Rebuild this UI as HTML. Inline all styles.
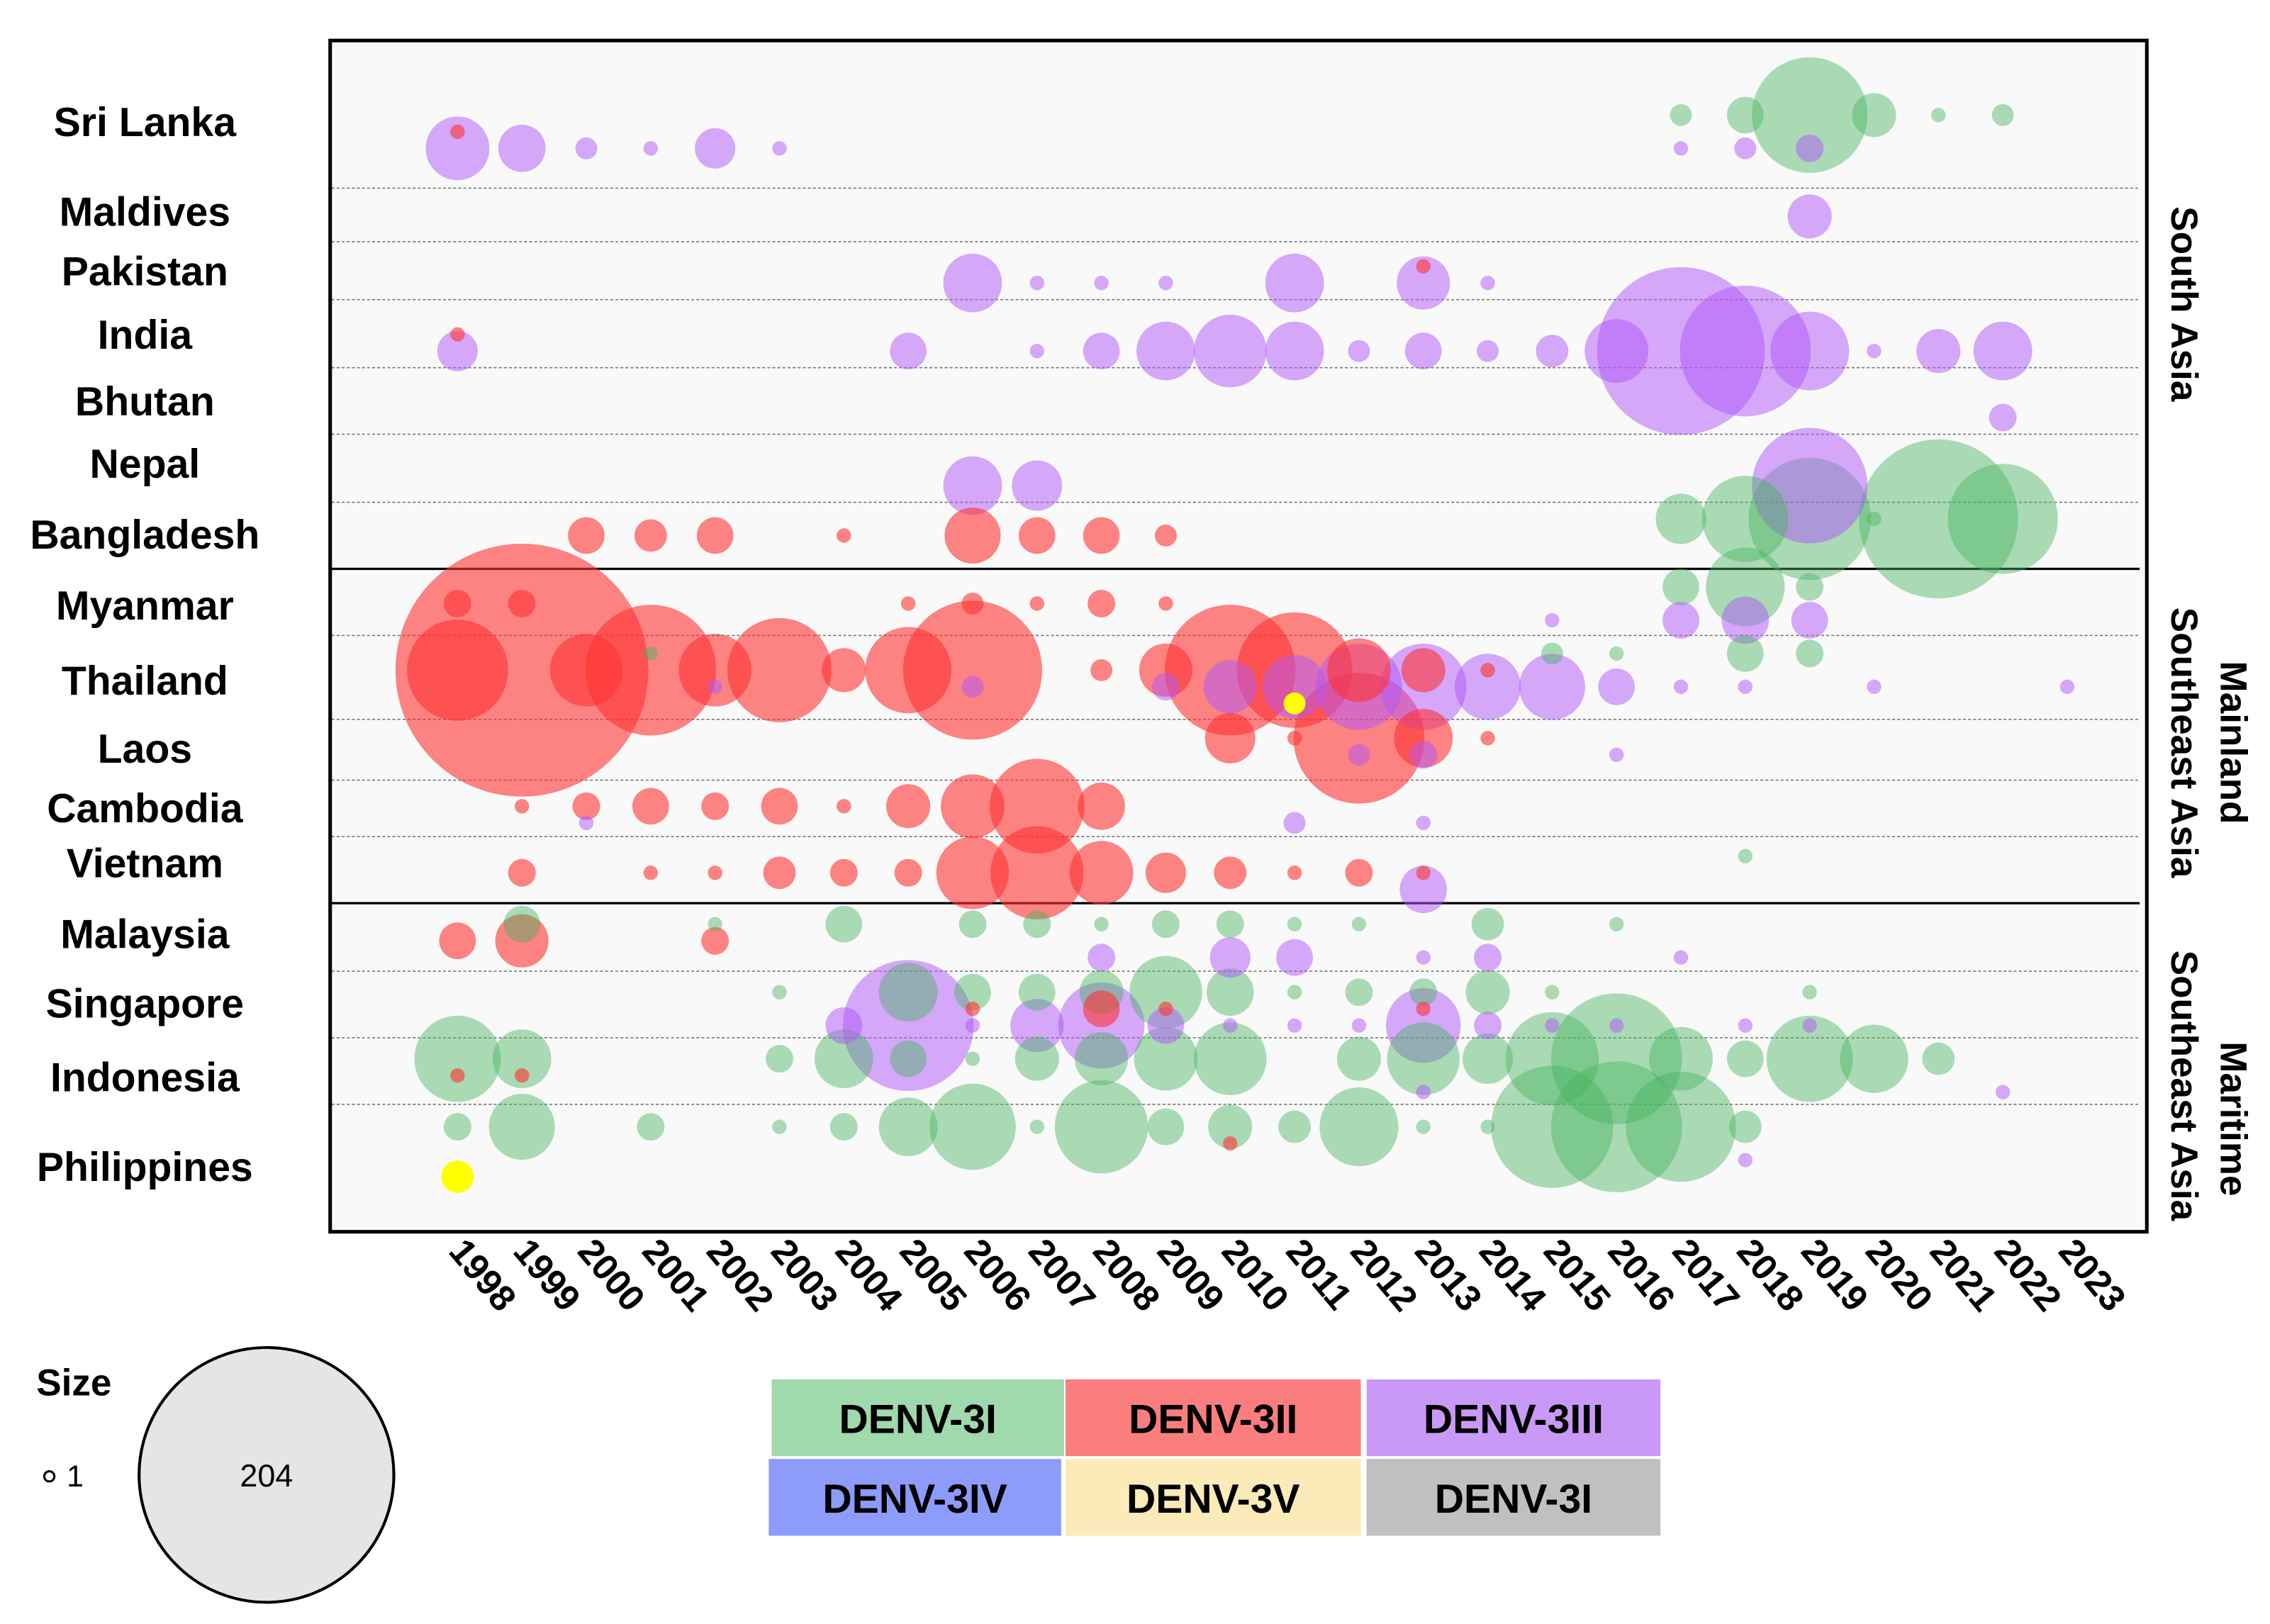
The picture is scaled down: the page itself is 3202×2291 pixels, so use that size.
<!DOCTYPE html>
<html><head><meta charset="utf-8">
<style>
html,body{margin:0;padding:0;background:#fff;}
svg{display:block;font-family:"Liberation Sans",Arial,sans-serif;}
</style></head>
<body>
<svg id="chart" width="3202" height="2291" viewBox="0 0 1568 1122" xmlns="http://www.w3.org/2000/svg">
<defs><clipPath id="plotclip"><rect x="229" y="29" width="1253" height="821"/></clipPath></defs>
<rect x="228" y="28" width="1255" height="823" fill="#f9f9f9"/>
<g id="grid"></g>
<g id="bubbles" clip-path="url(#plotclip)"></g>
<rect x="228" y="28" width="1255" height="823" fill="none" stroke="#000" stroke-width="2.5"/>
<g id="ylabels" font-weight="bold" font-size="28" text-anchor="middle"></g>
<g id="xlabels" font-weight="bold" font-size="25"></g>
<g font-weight="bold" font-size="26" text-anchor="middle">
 <text transform="translate(1500,210) rotate(90)">South Asia</text>
 <text transform="translate(1534,513) rotate(90)">Mainland</text>
 <text transform="translate(1500,513) rotate(90)">Southeast Asia</text>
 <text transform="translate(1534,773) rotate(90)">Maritime</text>
 <text transform="translate(1500,750) rotate(90)">Southeast Asia</text>
</g>
<g>
 <text x="25" y="964" font-weight="bold" font-size="26">Size</text>
 <circle cx="34" cy="1020" r="3.5" fill="none" stroke="#000" stroke-width="1.5"/>
 <text x="46" y="1027" font-size="21">1</text>
 <circle cx="184" cy="1019" r="88" fill="#e6e4e6" stroke="#000" stroke-width="2"/>
 <text x="184" y="1027" font-size="22" text-anchor="middle">204</text>
</g>
<g id="colorlegend" font-weight="bold" font-size="28" text-anchor="middle"></g>
</svg>
<script>
const countries = ["Sri Lanka","Maldives","Pakistan","India","Bhutan","Nepal","Bangladesh","Myanmar","Thailand","Laos","Cambodia","Vietnam","Malaysia","Singapore","Indonesia","Philippines"];
const countryBase = [91,138,184,231,277,324,370,417,463,510,557,603,650,697,743,790];
const labelY = [84,146,187,231,277,320,369,418,470,517,558,596,645,693,744,806];
const years = [1998,1999,2000,2001,2002,2003,2004,2005,2006,2007,2008,2009,2010,2011,2012,2013,2014,2015,2016,2017,2018,2019,2020,2021,2022,2023];
const genotypes = ["I","II","III","V"];
const genotypeOffset = {"I":-11.5,"II":0,"III":11.5,"V":23};
const genotypeColor = {"I":"rgba(70,180,95,0.45)","II":"rgba(255,50,50,0.6)","III":"rgba(175,85,250,0.5)","V":"rgba(255,255,0,1)"};
const legendLabels = ["DENV-3I","DENV-3II","DENV-3III","DENV-3IV","DENV-3V","DENV-3I"];
const legendColors = ["#9fd9ac","#fb7e7e","#c999f8","#8d9bfb","#fdeab9","#c0c0c0"];
const records = [
["Sri Lanka",2017,"I",2],["Sri Lanka",2018,"I",5],["Sri Lanka",2019,"I",44],["Sri Lanka",2020,"I",7],["Sri Lanka",2021,"I",1],["Sri Lanka",2022,"I",2],
["Sri Lanka",1998,"II",1],
["Sri Lanka",1998,"III",14],["Sri Lanka",1999,"III",8],["Sri Lanka",2000,"III",2],["Sri Lanka",2001,"III",1],["Sri Lanka",2002,"III",6],["Sri Lanka",2003,"III",1],["Sri Lanka",2017,"III",1],["Sri Lanka",2018,"III",2],["Sri Lanka",2019,"III",3],
["Maldives",2019,"III",7],
["Pakistan",2006,"III",12],["Pakistan",2007,"III",1],["Pakistan",2008,"III",1],["Pakistan",2009,"III",1],["Pakistan",2011,"III",12],["Pakistan",2013,"III",10],["Pakistan",2014,"III",1],["Pakistan",2013,"II",1],
["India",1998,"III",6],["India",2005,"III",5],["India",2007,"III",1],["India",2008,"III",5],["India",2009,"III",12],["India",2010,"III",18],["India",2011,"III",12],["India",2012,"III",2],["India",2013,"III",5],["India",2014,"III",2],["India",2015,"III",4],["India",2016,"III",14],["India",2017,"III",91],["India",2018,"III",56],["India",2019,"III",21],["India",2020,"III",1],["India",2021,"III",7],["India",2022,"III",12],["India",1998,"II",1],
["Bhutan",2022,"III",3],
["Nepal",2006,"III",12],["Nepal",2007,"III",9],["Nepal",2019,"III",44],
["Bangladesh",2017,"I",9],["Bangladesh",2018,"I",25],["Bangladesh",2019,"I",49],["Bangladesh",2020,"I",1],["Bangladesh",2021,"I",82],["Bangladesh",2022,"I",40],
["Bangladesh",2000,"II",5],["Bangladesh",2001,"II",4],["Bangladesh",2002,"II",5],["Bangladesh",2004,"II",1],["Bangladesh",2006,"II",11],["Bangladesh",2007,"II",5],["Bangladesh",2008,"II",5],["Bangladesh",2009,"II",2],
["Myanmar",1998,"II",3],["Myanmar",1999,"II",3],["Myanmar",2005,"II",1],["Myanmar",2006,"II",2],["Myanmar",2007,"II",1],["Myanmar",2008,"II",3],["Myanmar",2009,"II",1],
["Myanmar",2017,"I",5],["Myanmar",2018,"I",21],["Myanmar",2019,"I",3],
["Myanmar",2015,"III",1],["Myanmar",2017,"III",5],["Myanmar",2018,"III",8],["Myanmar",2019,"III",5],
["Thailand",1998,"II",34],["Thailand",1999,"II",204],["Thailand",2000,"II",18],["Thailand",2001,"II",56],["Thailand",2002,"II",18],["Thailand",2003,"II",36],["Thailand",2004,"II",7],["Thailand",2005,"II",25],["Thailand",2006,"II",63],["Thailand",2008,"II",2],["Thailand",2009,"II",10],["Thailand",2010,"II",56],["Thailand",2011,"II",44],["Thailand",2012,"II",14],["Thailand",2013,"II",7],["Thailand",2014,"II",1],
["Thailand",2001,"I",1],["Thailand",2015,"I",2],["Thailand",2016,"I",1],["Thailand",2018,"I",5],["Thailand",2019,"I",3],
["Thailand",2002,"III",1],["Thailand",2006,"III",2],["Thailand",2009,"III",3],["Thailand",2010,"III",10],["Thailand",2011,"III",14],["Thailand",2012,"III",25],["Thailand",2013,"III",25],["Thailand",2014,"III",15],["Thailand",2015,"III",15],["Thailand",2016,"III",5],["Thailand",2017,"III",1],["Thailand",2018,"III",1],["Thailand",2020,"III",1],["Thailand",2023,"III",1],
["Thailand",2011,"V",2],
["Laos",2010,"II",9],["Laos",2011,"II",1],["Laos",2012,"II",56],["Laos",2013,"II",12],["Laos",2014,"II",1],
["Laos",2012,"III",2],["Laos",2013,"III",3],["Laos",2016,"III",1],
["Cambodia",1999,"II",1],["Cambodia",2000,"II",3],["Cambodia",2001,"II",5],["Cambodia",2002,"II",3],["Cambodia",2003,"II",5],["Cambodia",2004,"II",1],["Cambodia",2005,"II",7],["Cambodia",2006,"II",14],["Cambodia",2007,"II",30],["Cambodia",2008,"II",8],
["Cambodia",2000,"III",1],["Cambodia",2011,"III",2],["Cambodia",2013,"III",1],
["Vietnam",1999,"II",3],["Vietnam",2001,"II",1],["Vietnam",2002,"II",1],["Vietnam",2003,"II",4],["Vietnam",2004,"II",3],["Vietnam",2005,"II",3],["Vietnam",2006,"II",18],["Vietnam",2007,"II",29],["Vietnam",2008,"II",14],["Vietnam",2009,"II",6],["Vietnam",2010,"II",4],["Vietnam",2011,"II",1],["Vietnam",2012,"II",3],["Vietnam",2013,"II",1],
["Vietnam",2013,"III",8],["Vietnam",2018,"I",1],
["Malaysia",1999,"I",5],["Malaysia",2002,"I",1],["Malaysia",2004,"I",5],["Malaysia",2006,"I",3],["Malaysia",2007,"I",3],["Malaysia",2008,"I",1],["Malaysia",2009,"I",3],["Malaysia",2010,"I",3],["Malaysia",2011,"I",1],["Malaysia",2012,"I",1],["Malaysia",2014,"I",4],["Malaysia",2016,"I",1],
["Malaysia",1998,"II",5],["Malaysia",1999,"II",10],["Malaysia",2002,"II",3],
["Malaysia",2008,"III",3],["Malaysia",2010,"III",6],["Malaysia",2011,"III",5],["Malaysia",2013,"III",1],["Malaysia",2014,"III",3],["Malaysia",2017,"III",1],
["Singapore",2003,"I",1],["Singapore",2005,"I",12],["Singapore",2006,"I",5],["Singapore",2007,"I",5],["Singapore",2008,"I",7],["Singapore",2009,"I",18],["Singapore",2010,"I",8],["Singapore",2011,"I",1],["Singapore",2012,"I",3],["Singapore",2013,"I",3],["Singapore",2014,"I",7],["Singapore",2015,"I",1],["Singapore",2019,"I",1],
["Singapore",2006,"II",1],["Singapore",2008,"II",5],["Singapore",2009,"II",1],["Singapore",2013,"II",1],
["Singapore",2004,"III",5],["Singapore",2005,"III",56],["Singapore",2006,"III",1],["Singapore",2007,"III",10],["Singapore",2008,"III",25],["Singapore",2009,"III",5],["Singapore",2010,"III",1],["Singapore",2011,"III",1],["Singapore",2012,"III",1],["Singapore",2013,"III",19],["Singapore",2014,"III",3],["Singapore",2015,"III",1],["Singapore",2016,"III",1],["Singapore",2018,"III",1],["Singapore",2019,"III",1],
["Indonesia",1998,"I",25],["Indonesia",1999,"I",12],["Indonesia",2003,"I",3],["Indonesia",2004,"I",12],["Indonesia",2005,"I",5],["Indonesia",2006,"I",1],["Indonesia",2007,"I",7],["Indonesia",2008,"I",10],["Indonesia",2009,"I",14],["Indonesia",2010,"I",18],["Indonesia",2012,"I",7],["Indonesia",2013,"I",18],["Indonesia",2014,"I",9],["Indonesia",2015,"I",29],["Indonesia",2016,"I",56],["Indonesia",2017,"I",14],["Indonesia",2018,"I",5],["Indonesia",2019,"I",25],["Indonesia",2020,"I",16],["Indonesia",2021,"I",4],
["Indonesia",1998,"II",1],["Indonesia",1999,"II",1],["Indonesia",2013,"III",1],["Indonesia",2022,"III",1],
["Philippines",1998,"I",3],["Philippines",1999,"I",15],["Philippines",2001,"I",3],["Philippines",2003,"I",1],["Philippines",2004,"I",3],["Philippines",2005,"I",12],["Philippines",2006,"I",25],["Philippines",2007,"I",1],["Philippines",2008,"I",29],["Philippines",2009,"I",5],["Philippines",2010,"I",7],["Philippines",2011,"I",4],["Philippines",2012,"I",21],["Philippines",2013,"I",1],["Philippines",2014,"I",1],["Philippines",2015,"I",49],["Philippines",2016,"I",56],["Philippines",2017,"I",40],["Philippines",2018,"I",4],
["Philippines",2010,"II",1],["Philippines",2018,"III",1],["Philippines",1998,"V",4]
];
const NS="http://www.w3.org/2000/svg";
function xScale(y){return 316+(y-1998)*44.48;}
function yScale(c,g){return countryBase[countries.indexOf(c)]+genotypeOffset[g];}
function rScale(n){return 5+6.2*(Math.sqrt(n)-1);}
function mk(t,a){const e=document.createElementNS(NS,t);for(const k in a)e.setAttribute(k,a[k]);return e;}
const grid=document.getElementById('grid');
const sepY=[130,167,207,254,300,347,393,439,497,539,578,624,671,717,763];
const solid=[393,624];
sepY.forEach(y=>{const l=mk('line',{x1:229,x2:1478,y1:y,y2:y,stroke:solid.includes(y)?'#000':'#777','stroke-width':solid.includes(y)?1.6:0.8,'stroke-dasharray':solid.includes(y)?'none':'2,1.5'});


grid.appendChild(l);});
const bg=document.getElementById('bubbles');
records.slice().sort((a,b)=>b[3]-a[3]).forEach(r=>{
 const c=mk('circle',{cx:xScale(r[1]),cy:yScale(r[0],r[2]),r:rScale(r[3]),fill:genotypeColor[r[2]]});
 
 
 bg.appendChild(c);});
const yl=document.getElementById('ylabels');
countries.forEach((c,i)=>{const t=mk('text',{x:100,y:labelY[i]+10});t.textContent=c;
 
 
 yl.appendChild(t);});
const xl=document.getElementById('xlabels');
years.forEach(y=>{const t=mk('text',{transform:'translate('+(xScale(y)-7)+',865) rotate(50)'});t.textContent=y;
 
 
 xl.appendChild(t);});
const cl=document.getElementById('colorlegend');
const boxX=[533,736,944],boxW=[202,204,203];
legendLabels.forEach((lab,i)=>{const col=i%3,row=Math.floor(i/3);
 const x=boxX[col]-(row&&col==0?2:0),y=row?1008:953;
 const r=mk('rect',{x:x,y:y,width:boxW[col],height:53,fill:legendColors[i]});
 
 
 cl.appendChild(r);
 const t=mk('text',{x:x+boxW[col]/2,y:y+37});t.textContent=lab;
 
 
 cl.appendChild(t);});
</script>
</body></html>
